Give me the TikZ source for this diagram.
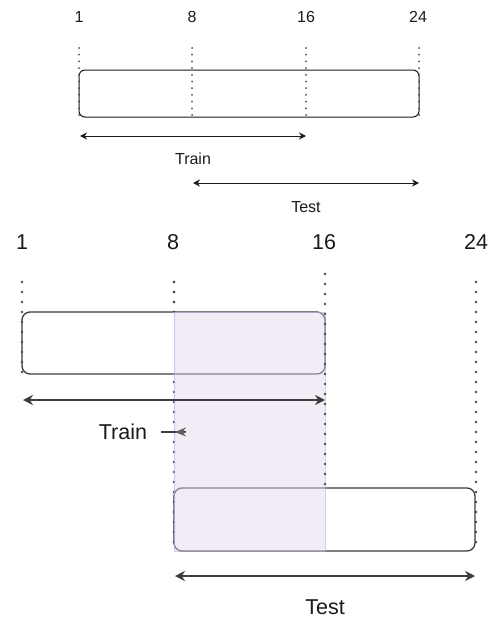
\documentclass[tikz,border=0pt]{standalone}
\usepackage{fontspec}
\setmainfont{Liberation Sans}
\usetikzlibrary{arrows.meta}
\definecolor{ink}{HTML}{1A1A1A}
\definecolor{dotgrey}{HTML}{4A4A4A}
\definecolor{lilac}{HTML}{E2D5EB}
\definecolor{lilacedge}{HTML}{B9A0CC}
\tikzset{
  smalltxt/.style={inner sep=0pt, text=ink, font=\fontsize{16}{18}\selectfont},
  bigtxt/.style={inner sep=0pt, text=ink, font=\fontsize{21.5}{24}\selectfont},
  barA/.style={draw=ink, line width=1pt, fill=white, rounded corners=6pt, inner sep=0pt},
  barB/.style={draw=ink!85, line width=1.3pt, fill=white, rounded corners=8pt, inner sep=0pt},
  dotsA/.style={draw=dotgrey, line width=2pt, line cap=round, dash pattern=on 0pt off 6.7pt},
  dotsB/.style={draw=dotgrey, line width=2.6pt, line cap=round, dash pattern=on 0pt off 10pt},
  spanA/.style={draw=ink, line width=1pt, {Stealth[length=7pt,width=7pt]}-{Stealth[length=7pt,width=7pt]}},
  spanB/.style={draw=ink!85, line width=1.3pt, {Stealth[length=10pt,width=10pt]}-{Stealth[length=10pt,width=10pt]}},
  overlap/.style={fill=lilac, fill opacity=0.45, draw=lilacedge, draw opacity=0.55, line width=0.8pt}
}
\begin{document}
\begin{tikzpicture}[x=1pt,y=-1pt]
\useasboundingbox (0,0) rectangle (497,618);

% ---------- upper figure: one bar split at 1, 8, 16, 24 ----------
\node[smalltxt] (a1)  at (79,17)  {1};
\node[smalltxt] (a8)  at (192,17) {8};
\node[smalltxt] (a16) at (306,17) {16};
\node[smalltxt] (a24) at (418,17) {24};

\node[barA, minimum width=340pt, minimum height=47pt] (barA) at (249,93.5) {};

\foreach \x in {79,192,306,419}
  \draw[dotsA] (\x,48) -- (\x,117);

\coordinate (trA0) at (80,136);
\coordinate (trA1) at (306,136);
\coordinate (teA0) at (193,183);
\coordinate (teA1) at (419,183);
\draw[spanA] (trA0) -- (trA1);
\draw[spanA] (teA0) -- (teA1);
\node[smalltxt] (trainA) at (193,159) {Train};
\node[smalltxt] (testA)  at (306,207) {Test};

% ---------- lower figure: train window and test window ----------
\node[bigtxt] (b1)  at (22,242)  {1};
\node[bigtxt] (b8)  at (173,242) {8};
\node[bigtxt] (b16) at (324,242) {16};
\node[bigtxt] (b24) at (476,242) {24};

% dotted guide at 8, hidden behind the train bar
\draw[dotsB] (174,282) -- (174,551);

\node[barB, minimum width=303pt, minimum height=62pt] (trainbar) at (173.5,343) {};
\node[barB, minimum width=301pt, minimum height=63pt] (testbar)  at (324.5,519.5) {};

% shared span of the two windows
\fill[overlap] (174,312) rectangle (325,551);

\draw[dotsB] (22,282) -- (22,374);
\draw[dotsB] (174,282) -- (174,302);
\draw[dotsB] (325,274) -- (325,488);
\draw[dotsB] (476,282) -- (476,551);

\coordinate (trB0) at (23,400);
\coordinate (trB1) at (325,400);
\coordinate (teB0) at (175,576);
\coordinate (teB1) at (475,576);
\draw[spanB] (trB0) -- (trB1);
\draw[spanB] (teB0) -- (teB1);

\node[bigtxt] (trainB) at (123,432) {Train};
\coordinate (trainTip) at (175,432);
\coordinate (trainTail) at (186,432);
\draw[draw=ink!85, line width=1.3pt] (trainB.east) ++(14pt,0) -- (trainTail);
\draw[draw=ink!70, line width=1pt, -{Stealth[length=11pt,width=9pt]}] (trainTail) -- (trainTip);

\node[bigtxt] (testB) at (325,607) {Test};
\end{tikzpicture}
\end{document}
